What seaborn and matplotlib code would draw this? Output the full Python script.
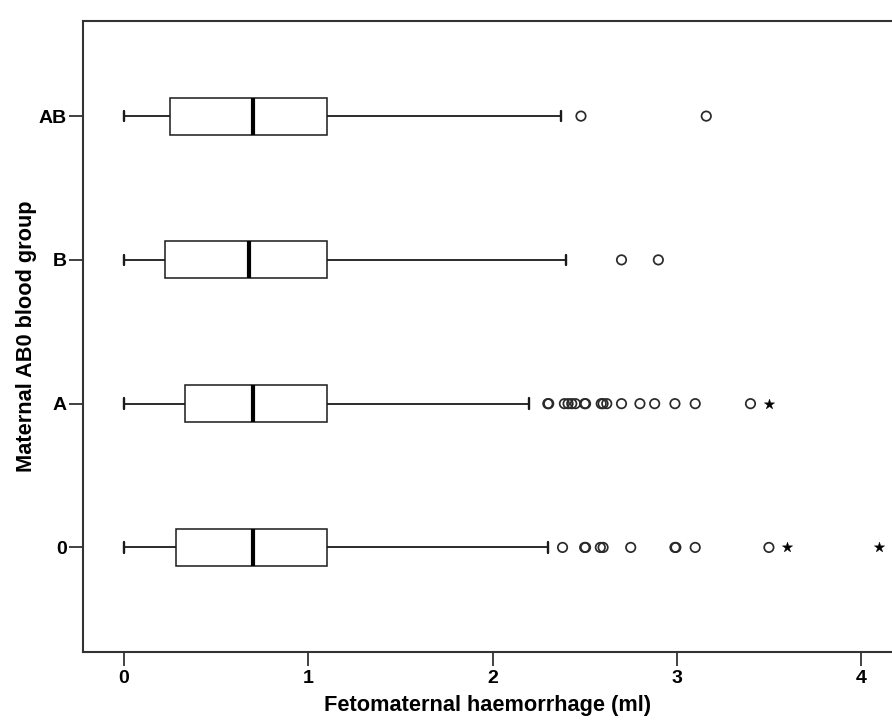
import numpy as np
import pandas as pd
import matplotlib
matplotlib.use("Agg")
import matplotlib.pyplot as plt
import seaborn as sns

# Maternal blood groups (top to bottom)
groups = ["AB", "B", "A", "0"]

# Five-number summaries of fetomaternal haemorrhage (ml) per group
whisker_low = [0.00, 0.00, 0.00, 0.00]
q1 = [0.25, 0.22, 0.33, 0.28]
median = [0.70, 0.68, 0.70, 0.70]
q3 = [1.10, 1.10, 1.10, 1.10]
whisker_high = [2.37, 2.40, 2.20, 2.30]

# Outliers (circles)
outlier_groups = (["AB"] * 2 + ["B"] * 2 +
                  ["A"] * 17 +
                  ["0"] * 10)
outlier_values = ([2.48, 3.16] +
                  [2.70, 2.90] +
                  [2.30, 2.305, 2.39, 2.41, 2.43, 2.45, 2.50, 2.505, 2.59, 2.60,
                   2.62, 2.70, 2.80, 2.88, 2.99, 3.10, 3.40] +
                  [2.38, 2.50, 2.505, 2.585, 2.60, 2.75, 2.99, 2.995, 3.10, 3.50])

# Extreme values (stars)
extreme_groups = ["A", "0", "0"]
extreme_values = [3.50, 3.60, 4.10]

tick_values = [0, 1, 2, 3, 4]

sns.set_theme(style="white")
plt.rcParams["font.family"] = ["Liberation Sans", "DejaVu Sans"]
plt.rcParams["font.weight"] = "bold"
plt.rcParams["text.color"] = "black"
plt.rcParams["axes.labelcolor"] = "black"
plt.rcParams["xtick.color"] = "black"
plt.rcParams["ytick.color"] = "black"

box_df = pd.DataFrame({
    "group": np.repeat(groups, 5),
    "value": np.ravel(np.column_stack([whisker_low, q1, median, q3, whisker_high])),
})
out_df = pd.DataFrame({"group": outlier_groups, "value": outlier_values})
ext_df = pd.DataFrame({"group": extreme_groups, "value": extreme_values})

fig = plt.figure(figsize=(8.92, 7.24), dpi=100)
ax = fig.add_axes([0.09305, 0.0999, 0.90695, 0.871])

line_col = "#1a1a1a"
box_width = 0.257
sns.boxplot(
    data=box_df, x="value", y="group", order=groups, orient="h",
    width=box_width, whis=np.inf, showfliers=False, ax=ax,
    boxprops=dict(facecolor="white", edgecolor=line_col, linewidth=1.1),
    whiskerprops=dict(color=line_col, linewidth=1.3),
    capprops=dict(color=line_col, linewidth=1.7),
    medianprops=dict(color="black", linewidth=3.0),
)

# shorten whisker caps
for ln in ax.lines:
    xd = np.asarray(ln.get_xdata(), dtype=float)
    yd = np.asarray(ln.get_ydata(), dtype=float)
    if len(xd) == 2 and np.isclose(xd[0], xd[1]):
        span = abs(yd[1] - yd[0])
        if 0 < span < 0.9 * box_width:
            mid = yd.mean()
            ln.set_ydata([mid - 0.036, mid + 0.036])

sns.scatterplot(data=out_df, x="value", y="group", ax=ax, marker="o",
                s=46, facecolor="none", edgecolor="#2a2a2a", linewidth=1.25,
                zorder=5, legend=False)
sns.scatterplot(data=ext_df, x="value", y="group", ax=ax, marker="*",
                s=60, color="black", edgecolor="black", linewidth=0.3,
                zorder=5, legend=False)

ax.set_xlim(-0.2225, 4.168)
ax.set_ylim(3.725, -0.661)
ax.set_xticks(tick_values)
ax.set_xticklabels([str(t) for t in tick_values])

for side in ["left", "top", "bottom"]:
    ax.spines[side].set_visible(True)
    ax.spines[side].set_color("#333333")
    ax.spines[side].set_linewidth(1.5)
ax.spines["right"].set_visible(False)

ax.tick_params(axis="both", which="major", length=10, width=1.3, color="#333333",
               direction="out", bottom=True, left=True)
ax.tick_params(axis="x", labelsize=14, pad=3, labelcolor="black")
ax.tick_params(axis="y", labelsize=14, pad=1.5, labelcolor="black")
for lab in ax.get_xticklabels() + ax.get_yticklabels():
    lab.set_fontweight("bold")

ax.set_xlabel("Fetomaternal haemorrhage (ml)", fontsize=15.7, fontweight="bold",
              labelpad=6, color="black")
ax.set_ylabel("Maternal AB0 blood group", fontsize=15.7, fontweight="bold",
              color="black")
ax.yaxis.set_label_coords(-0.0569, 0.5)
ax.grid(False)

fig.savefig("out.png", dpi=100)
